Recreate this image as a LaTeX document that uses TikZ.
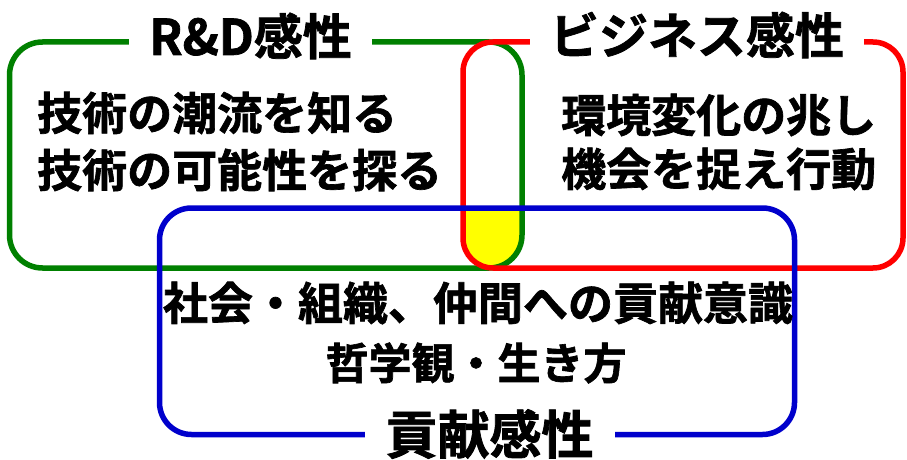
\documentclass[tikz,border=0pt]{standalone}
\usepackage{fontspec}
\setmainfont{Noto Sans CJK JP}[BoldFont=* Bold, BoldFeatures={FakeBold=1.5}]
\definecolor{rdgreen}{HTML}{008000}
\definecolor{bzred}{HTML}{FF0000}
\definecolor{cbblue}{HTML}{0000CC}
\definecolor{hlyellow}{HTML}{FFFF00}
\begin{document}
\begin{tikzpicture}[x=1pt,y=-1pt,
  frame/.style={line width=5.5pt},
  body/.style={font=\bfseries\fontsize{45}{54}\selectfont, inner sep=0pt},
  title/.style={font=\bfseries\fontsize{49}{58}\selectfont, fill=white, inner xsep=20pt, inner ysep=0pt},
  titleb/.style={font=\bfseries\fontsize{52}{60}\selectfont, fill=white, inner xsep=21pt, inner ysep=0pt}]
\useasboundingbox (0,0) rectangle (907,460);
\fill[white] (0,0) rectangle (907,460);
% yellow triple intersection
\begin{scope}
  \clip[rounded corners=33pt] (9.5,42) rectangle (522,268);
  \clip[rounded corners=30pt] (463,42) rectangle (903,268);
  \fill[hlyellow, rounded corners=32pt] (159.5,208) rectangle (794.5,434.5);
\end{scope}
\draw[frame, rdgreen, rounded corners=33pt] (9.5,42) rectangle (522,268);
\draw[frame, bzred, rounded corners=30pt] (463,42) rectangle (903,268);
\draw[frame, cbblue, rounded corners=32pt] (159.5,208) rectangle (794.5,434.5);
% titles
\node[title] (trd) at (250.5,36) {R\&D感性};
\node[title] (tbz) at (697,35) {ビジネス感性};
\node[titleb] (tcb) at (489.5,434) {貢献感性};
% body texts
\node[body, anchor=west] (rd1) at (37,113) {技術の潮流を知る};
\node[body, anchor=west] (rd2) at (37,170) {技術の可能性を探る};
\node[body, anchor=west] (bz1) at (561,115) {環境変化の兆し};
\node[body, anchor=west] (bz2) at (561,169) {機会を捉え行動};
\node[body] (cb1) at (478,303) {社会・組織、仲間への貢献意識};
\node[body, font=\bfseries\fontsize{43}{52}\selectfont] (cb2) at (476,363) {哲学観・生き方};
\end{tikzpicture}
\end{document}
